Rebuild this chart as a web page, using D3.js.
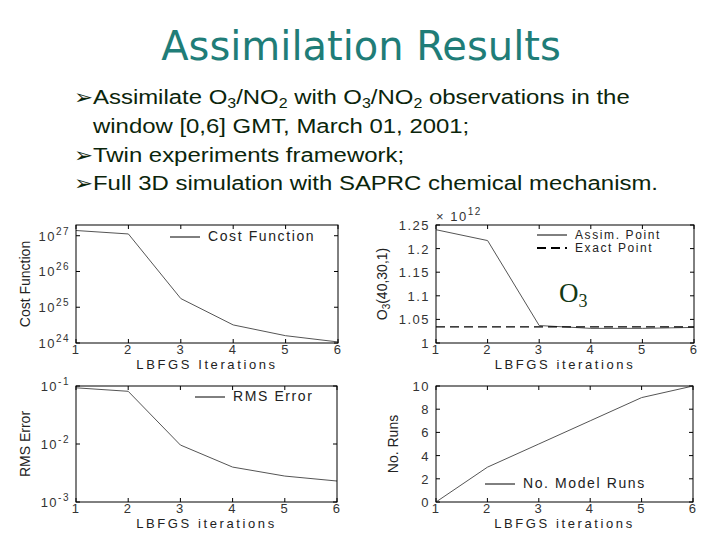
<!DOCTYPE html>
<html>
<head>
<meta charset="utf-8">
<script src="https://cdn.jsdelivr.net/npm/d3@7"></script>
<style>
  body { margin: 0; background: #fff; }
  svg { display: block; }
  .tick-lbl { font-family: "Liberation Sans", Arial, sans-serif; font-size: 13px; letter-spacing: 1.5px; fill: #333; }
  .ax-lbl { font-family: "Liberation Sans Narrow", "Liberation Sans", sans-serif; font-size: 14px; fill: #222; }
  .x-lbl { font-family: "Liberation Sans", Arial, sans-serif; font-size: 13px; letter-spacing: 2.6px; fill: #222; }
  .leg { font-family: "Liberation Sans", Arial, sans-serif; font-size: 14px; letter-spacing: 1.6px; fill: #222; }
</style>
</head>
<body>
<div id="graphContainer"></div>
<script>
// iterations shared by all four panels
var iterations = [1, 2, 3, 4, 5, 6];

// values
var costFunction = [1.4e27, 1.12e27, 1.75e25, 3.2e24, 1.6e24, 1.07e24];
var assimPoint = [1.240e12, 1.217e12, 1.037e12, 1.031e12, 1.031e12, 1.033e12];
var exactPoint = [1.034e12, 1.034e12, 1.034e12, 1.034e12, 1.034e12, 1.034e12];
var rmsError = [0.093, 0.081, 0.0096, 0.0040, 0.0028, 0.0023];
var modelRuns = [0, 3, 5, 7, 9, 10];

var costTicks = [1e24, 1e25, 1e26, 1e27];
var o3Ticks = [1.0e12, 1.05e12, 1.1e12, 1.15e12, 1.2e12, 1.25e12];
var o3TickLabels = ["1", "1.05", "1.1", "1.15", "1.2", "1.25"];
var rmsTicks = [1e-3, 1e-2, 1e-1];
var runTicks = [0, 2, 4, 6, 8, 10];

var svg = d3.select("#graphContainer").append("svg")
    .attr("width", 720).attr("height", 540);

// title + bullet text
svg.append("text")
    .attr("x", 361).attr("y", 60)
    .attr("text-anchor", "middle")
    .style("font-family", "'Comic Sans MS', 'DejaVu Sans', sans-serif")
    .style("font-size", "40px")
    .attr("fill", "#1f7d78")
    .text("Assimilation Results");

// slide text is a bit wider than plain Arial, so stretch it sideways
var sx = 1.14;
var bullets = svg.append("g")
    .attr("transform", "translate(93,0) scale(" + sx + ",1)")
    .style("font-family", "'Liberation Sans', Arial, sans-serif")
    .style("font-size", "21px")
    .attr("fill", "#0b250b");

function sub(t, s) {
    t.append("tspan").attr("baseline-shift", "-25%").style("font-size", "14px").text(s);
}

function arrow(y) {
    bullets.append("text").attr("x", -19 / sx).attr("y", y)
        .style("font-family", "'DejaVu Sans', sans-serif")
        .style("font-size", "20px")
        .text("\u27A2");
}

arrow(104);
var l1 = bullets.append("text").attr("x", 0).attr("y", 104);
l1.append("tspan").text("Assimilate O");
sub(l1, "3");
l1.append("tspan").text("/NO");
sub(l1, "2");
l1.append("tspan").text(" with O");
sub(l1, "3");
l1.append("tspan").text("/NO");
sub(l1, "2");
l1.append("tspan").text(" observations in the");
bullets.append("text").attr("x", 0).attr("y", 133).text("window [0,6] GMT, March 01, 2001;");
arrow(162);
bullets.append("text").attr("x", 0).attr("y", 162).text("Twin experiments framework;");
arrow(190);
bullets.append("text").attr("x", 0).attr("y", 190).text("Full 3D simulation with SAPRC chemical mechanism.");

// one MATLAB-like panel
function drawPanel(p) {
    var x = d3.scaleLinear().domain([1, 6]).range([p.left, p.right]);
    var y = (p.log ? d3.scaleLog() : d3.scaleLinear()).domain(p.domain).range([p.bottom, p.top]);
    var g = svg.append("g");

    // ticks inside the box on all four sides
    var tl = 4;
    iterations.forEach(function (d) {
        g.append("line").attr("x1", x(d)).attr("x2", x(d)).attr("y1", p.bottom).attr("y2", p.bottom - tl).attr("stroke", "#000");
        g.append("line").attr("x1", x(d)).attr("x2", x(d)).attr("y1", p.top).attr("y2", p.top + tl).attr("stroke", "#000");
        g.append("text").attr("class", "tick-lbl")
            .attr("x", x(d)).attr("y", p.bottom + 11)
            .attr("text-anchor", "middle").text(d);
    });
    p.ticks.forEach(function (d, i) {
        g.append("line").attr("x1", p.left).attr("x2", p.left + tl).attr("y1", y(d)).attr("y2", y(d)).attr("stroke", "#000");
        g.append("line").attr("x1", p.right).attr("x2", p.right - tl).attr("y1", y(d)).attr("y2", y(d)).attr("stroke", "#000");
        var t = g.append("text").attr("class", "tick-lbl")
            .attr("x", p.left - 6).attr("y", y(d) + 5)
            .attr("text-anchor", "end");
        if (p.log) {
            t.append("tspan").text("10");
            t.append("tspan").attr("dy", -6).style("font-size", "10px").text(Math.round(Math.log10(d)));
        } else {
            t.text(p.tickLabels ? p.tickLabels[i] : d);
        }
    });

    p.series.forEach(function (s) {
        var line = d3.line()
            .x(function (d, i) { return x(iterations[i]); })
            .y(function (d) { return y(d); });
        g.append("path").datum(s.values)
            .attr("d", line)
            .attr("fill", "none")
            .attr("stroke", s.dash ? "#000" : "#555")
            .attr("stroke-width", s.dash ? 1.2 : 1)
            .attr("stroke-dasharray", s.dash ? "9,5" : null);
    });

    g.append("rect")
        .attr("x", p.left).attr("y", p.top)
        .attr("width", p.right - p.left).attr("height", p.bottom - p.top)
        .attr("fill", "none").attr("stroke", "#000");

    // legend
    var two = p.series.length > 1;
    p.series.forEach(function (s, i) {
        var ly = p.legY + i * (two ? 13 : 12);
        g.append("line")
            .attr("x1", p.legX).attr("x2", p.legX + 30)
            .attr("y1", ly).attr("y2", ly)
            .attr("stroke", "#000").attr("stroke-width", s.dash ? 2 : 1)
            .attr("stroke-dasharray", s.dash ? "9,5" : null);
        g.append("text").attr("class", "leg")
            .style("font-size", two ? "12px" : "14px")
            .attr("x", p.legX + 38).attr("y", ly + 4)
            .text(s.name);
    });

    g.append("text").attr("class", "x-lbl")
        .attr("x", (p.left + p.right) / 2).attr("y", p.bottom + 26)
        .attr("text-anchor", "middle")
        .text(p.xLabel);

    var yl = g.append("text").attr("class", "ax-lbl")
        .attr("transform", "translate(" + p.yLabelX + "," + (p.top + p.bottom) / 2 + ") rotate(-90)")
        .attr("text-anchor", "middle");
    p.yLabel(yl);
    return g;
}

drawPanel({
    left: 76, right: 338, top: 225, bottom: 343,
    log: true, domain: [1e24, Math.pow(10, 27.3)], ticks: costTicks,
    series: [{ name: "Cost Function", values: costFunction }],
    legX: 170, legY: 237,
    xLabel: "LBFGS Iterations", yLabelX: 30,
    yLabel: function (t) { t.text("Cost Function"); }
});

var p2 = drawPanel({
    left: 436, right: 694, top: 225, bottom: 343,
    log: false, domain: [1.0e12, 1.25e12], ticks: o3Ticks, tickLabels: o3TickLabels,
    series: [{ name: "Assim. Point", values: assimPoint },
             { name: "Exact Point", values: exactPoint, dash: true }],
    legX: 537, legY: 235,
    xLabel: "LBFGS iterations", yLabelX: 387,
    yLabel: function (t) {
        t.append("tspan").text("O");
        t.append("tspan").attr("baseline-shift", "-25%").style("font-size", "10px").text("3");
        t.append("tspan").text("(40,30,1)");
    }
});
var mult = p2.append("text").attr("class", "tick-lbl").attr("x", 436).attr("y", 221);
mult.append("tspan").text("\u00D7 10");
mult.append("tspan").attr("dy", -6).style("font-size", "10px").text("12");

p2.append("text")
    .attr("x", 559).attr("y", 302)
    .style("font-family", "'Liberation Serif', 'Times New Roman', serif")
    .style("font-size", "27px")
    .attr("fill", "#143814")
    .text("O")
    .append("tspan").attr("baseline-shift", "-25%").style("font-size", "18px").text("3");

drawPanel({
    left: 76, right: 337, top: 386, bottom: 502,
    log: true, domain: [1e-3, 1e-1], ticks: rmsTicks,
    series: [{ name: "RMS Error", values: rmsError }],
    legX: 195, legY: 397,
    xLabel: "LBFGS iterations", yLabelX: 30,
    yLabel: function (t) { t.text("RMS Error"); }
});

drawPanel({
    left: 436, right: 693, top: 386, bottom: 502,
    log: false, domain: [0, 10], ticks: runTicks,
    series: [{ name: "No. Model Runs", values: modelRuns }],
    legX: 485, legY: 484,
    xLabel: "LBFGS iterations", yLabelX: 398,
    yLabel: function (t) { t.text("No. Runs"); }
});
</script>
</body>
</html>
